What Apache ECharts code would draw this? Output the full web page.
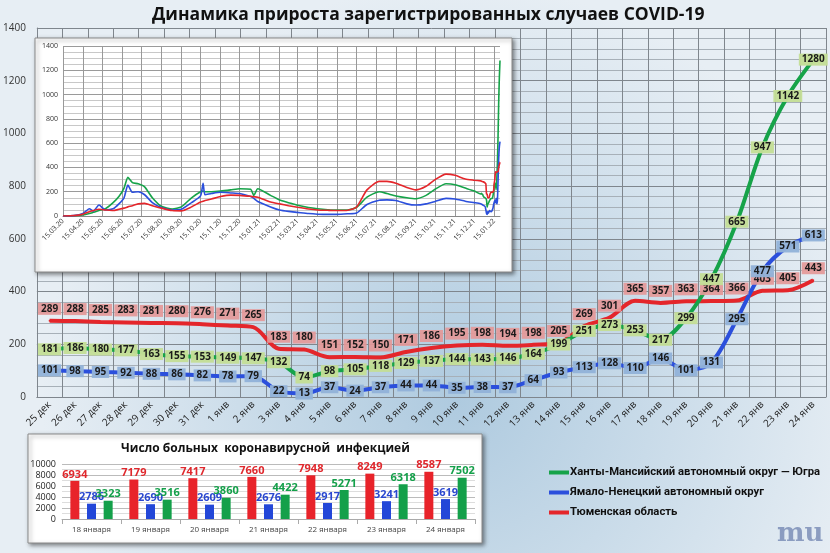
<!DOCTYPE html>
<html>
<head>
<meta charset="utf-8">
<script src="https://cdn.jsdelivr.net/npm/echarts@6/dist/echarts.min.js"></script>
<style>
  html, body { margin: 0; padding: 0; }
  #main { width: 830px; height: 553px; }
</style>
</head>
<body>
<div id="main"></div>
<script>
// Основной график: прирост за сутки, 25 дек - 24 янв
const days = ['25 дек','26 дек','27 дек','28 дек','29 дек','30 дек','31 дек','1 янв','2 янв','3 янв','4 янв',
  '5 янв','6 янв','7 янв','8 янв','9 янв','10 янв','11 янв','12 янв','13 янв','14 янв','15 янв','16 янв',
  '17 янв','18 янв','19 янв','20 янв','21 янв','22 янв','23 янв','24 янв'];
const tyumen = [289,288,285,283,281,280,276,271,265,183,180,151,152,150,171,186,195,198,194,198,205,269,301,365,357,363,364,366,403,405,443];
const khmao = [181,186,180,177,163,155,153,149,147,132,74,98,105,118,129,137,144,143,146,164,199,251,273,253,217,299,447,665,947,1142,1280];
const yamal = [101,98,95,92,88,86,82,78,79,22,13,37,24,37,44,44,35,38,37,64,93,113,128,110,146,101,131,295,477,571,613];

// Врезка: весь период
const insetDates = ['2020-03-15','2020-04-01','2020-04-15','2020-04-25','2020-05-01','2020-05-10','2020-05-20',
  '2020-06-01','2020-06-10','2020-06-18','2020-06-24','2020-07-01','2020-07-10','2020-07-20','2020-08-01',
  '2020-08-15','2020-09-01','2020-09-15','2020-10-01','2020-10-15','2020-10-19','2020-10-22','2020-11-01',
  '2020-11-15','2020-12-01','2020-12-15','2021-01-01','2021-01-06','2021-01-12','2021-02-01','2021-02-15',
  '2021-03-01','2021-03-15','2021-04-01','2021-04-15','2021-05-01','2021-05-15','2021-06-01','2021-06-15',
  '2021-07-01','2021-07-20','2021-08-01','2021-08-15','2021-09-01','2021-09-15','2021-10-01','2021-10-15',
  '2021-11-01','2021-11-15','2021-12-01','2021-12-15'];
const insetKhmao = [0,2,8,20,30,45,60,110,160,230,318,275,265,240,150,80,58,75,150,200,205,200,200,205,215,225,
  220,170,225,170,132,110,88,70,60,52,48,50,72,155,200,185,165,150,142,170,220,265,258,230,205];
const insetTyumen = [0,3,15,35,45,55,50,45,55,65,75,85,100,104,85,65,45,42,75,115,122,128,140,160,172,170,
  162,158,155,115,100,85,72,58,50,47,45,48,75,215,285,285,270,235,215,245,300,345,335,305,295];
const insetYamal = [0,3,20,60,40,90,50,60,100,150,255,195,200,175,110,70,50,55,110,165,270,175,185,195,190,185,
  160,145,120,75,50,38,30,20,15,13,13,18,25,95,130,133,128,100,90,100,120,145,140,122,110];

// Число больных
const barDays = ['18 января','19 января','20 января','21 января','22 января','23 января','24 января'];
const barTyumen = [6934,7179,7417,7660,7948,8249,8587];
const barYamal = [2786,2690,2609,2676,2917,3241,3619];
const barKhmao = [3323,3516,3860,4422,5271,6318,7502];

const NAME_K = 'Ханты-Мансийский автономный округ — Югра';
const NAME_Y = 'Ямало-Ненецкий автономный округ';
const NAME_T = 'Тюменская область';
const RED = '#e4262b', GREEN = '#16a349', BLUE = '#2b4fdc';
const FONT = 'Open Sans';
const plain = v => String(v);

// ось дат для врезки (по дням)
function fmt(d) {
  const p = n => (n < 10 ? '0' : '') + n;
  return p(d.getUTCDate()) + '.' + p(d.getUTCMonth() + 1) + '.' + String(d.getUTCFullYear()).slice(2);
}
const dayMs = 86400000;
const start = Date.UTC(2020, 2, 15);
const lastDay = Date.UTC(2022, 0, 24);
const insetAxis = [];
for (let t = start; t <= lastDay; t += dayMs) insetAxis.push(fmt(new Date(t)));
function idx(iso) {
  const p = iso.split('-');
  return Math.round((Date.UTC(+p[0], +p[1] - 1, +p[2]) - start) / dayMs);
}
function insetSeries(samples, tail) {
  const out = insetAxis.map(() => null);
  insetDates.forEach((d, i) => { out[idx(d)] = samples[i]; });
  const t0 = idx('2021-12-25');
  tail.forEach((v, i) => { out[t0 + i] = v; });
  return out;
}
const is15 = (i, v) => v.slice(0, 2) === '15';

function boxLabel(bg, pos, dist) {
  return {
    show: true, position: pos, distance: dist,
    backgroundColor: bg, padding: [1, 3],
    color: '#1a1a1a', fontWeight: 'bold', fontSize: 10, fontFamily: FONT
  };
}

function mainLine(name, data, color, bg, pos, dist) {
  return {
    name: name, type: 'line', xAxisIndex: 0, yAxisIndex: 0, data: data, color: color,
    smooth: 0.3, symbol: 'circle', symbolSize: 2, showSymbol: true,
    itemStyle: { color: color }, lineStyle: { width: 4, color: color }, z: 2,
    label: boxLabel(bg, pos, dist)
  };
}

const chart = echarts.init(document.getElementById('main'));
chart.setOption({
  animation: false,
  backgroundColor: '#d3e0ea',
  title: [{
    text: 'Динамика прироста зарегистрированных случаев COVID-19',
    left: 147, top: 1,
    textStyle: { fontSize: 17.5, fontWeight: 'bold', color: '#111', fontFamily: FONT }
  }, {
    text: 'Число больных  коронавирусной  инфекцией',
    left: 116, top: 438,
    textStyle: { fontSize: 12, fontWeight: 'bold', color: '#111', fontFamily: FONT }
  }],
  legend: {
    orient: 'vertical', left: 544, top: 462,
    icon: 'rect', itemWidth: 20, itemHeight: 4, itemGap: 9,
    data: [NAME_K, NAME_Y, NAME_T],
    textStyle: { fontSize: 11.3, fontWeight: 'bold', color: '#111', fontFamily: 'Roboto', padding: [0, 0, 0, -4] }
  },
  graphic: [
    { type: 'rect', z: -10, silent: true, shape: { x: 0, y: 0, width: 830, height: 553 },
      style: { fill: { type: 'radial', x: 0.55, y: 0.72, r: 0.75,
        colorStops: [{ offset: 0, color: '#aecadf' }, { offset: 1, color: '#e7eef4' }] } } },
    { type: 'rect', z: 1, shape: { x: 35, y: 38, width: 477, height: 234 },
      style: { fill: '#fff', stroke: '#8a8a8a', lineWidth: 1, shadowBlur: 4, shadowOffsetX: 2, shadowOffsetY: 2, shadowColor: 'rgba(0,0,0,0.45)' } },
    { type: 'rect', z: 1, shape: { x: 28, y: 434, width: 454, height: 109 },
      style: { fill: '#fff', stroke: '#8a8a8a', lineWidth: 1, shadowBlur: 4, shadowOffsetX: 2, shadowOffsetY: 2, shadowColor: 'rgba(0,0,0,0.45)' } },
    { type: 'text', z: 1, left: 777, top: 521,
      style: { text: 'mu', fontSize: 26, fontWeight: 'bold', fontFamily: 'DejaVu Serif', fill: 'rgba(110,130,175,0.75)' } }
  ],
  grid: [
    { left: 31, right: 4, top: 28, bottom: 156 },
    { left: 63, right: 330, top: 46, bottom: 337 },
    { left: 62, right: 355, top: 464, bottom: 34 }
  ],
  xAxis: [{
    type: 'category', gridIndex: 0, data: days, boundaryGap: true, z: 0,
    axisTick: { show: false },
    axisLine: { lineStyle: { color: '#7f868d' } },
    axisLabel: { rotate: 45, fontSize: 10, color: '#222', margin: 6, interval: 0, fontFamily: FONT },
    splitLine: { show: true, interval: 0, lineStyle: { color: '#7f868d', width: 1 } }
  }, {
    type: 'category', gridIndex: 1, data: insetAxis, boundaryGap: false, z: 3,
    axisTick: { show: false },
    axisLine: { lineStyle: { color: '#888' } },
    axisLabel: { rotate: 45, fontSize: 7, color: '#333', margin: 4, interval: is15, fontFamily: FONT },
    splitLine: { show: true, interval: is15, lineStyle: { color: '#999', width: 1 } }
  }, {
    type: 'category', gridIndex: 2, data: barDays, z: 3,
    axisTick: { show: true, lineStyle: { color: '#aaa' } },
    axisLine: { lineStyle: { color: '#aaa' } },
    axisLabel: { fontSize: 8, color: '#444', margin: 7, fontFamily: FONT }
  }],
  yAxis: [{
    type: 'value', gridIndex: 0, min: 0, max: 1400, interval: 200, z: 0,
    axisLine: { show: true, lineStyle: { color: '#7f868d' } },
    axisLabel: { fontSize: 10, color: '#333', margin: 11, fontFamily: FONT, formatter: plain },
    splitLine: { show: true, lineStyle: { color: '#7f868d', width: 1 } },
    minorTick: { show: false, splitNumber: 5 },
    minorSplitLine: { show: true, lineStyle: { color: '#a7b0b8', width: 1 } }
  }, {
    type: 'value', gridIndex: 1, min: 0, max: 1400, interval: 200, z: 3,
    axisLabel: { fontSize: 7, color: '#333', margin: 5, fontFamily: FONT, formatter: plain },
    splitLine: { lineStyle: { color: '#9a9a9a', width: 1 } },
    minorTick: { show: false, splitNumber: 4 },
    minorSplitLine: { show: true, lineStyle: { color: '#c8c8c8', width: 1 } }
  }, {
    type: 'value', gridIndex: 2, min: 0, max: 10000, interval: 2000, z: 3,
    axisLabel: { fontSize: 9, color: '#222', margin: 6, fontFamily: FONT, formatter: plain },
    splitLine: { lineStyle: { color: '#bbb', width: 1 } },
    minorTick: { show: false, splitNumber: 2 },
    minorSplitLine: { show: true, lineStyle: { color: '#ddd', width: 1 } }
  }],
  series: [
    mainLine(NAME_T, tyumen, RED, 'rgba(228,152,152,0.92)', 'top', 5),
    mainLine(NAME_K, khmao, GREEN, 'rgba(196,222,150,0.96)', 'inside', 0),
    mainLine(NAME_Y, yamal, BLUE, 'rgba(146,178,216,0.96)', 'inside', 0),

    { name: NAME_K, type: 'line', xAxisIndex: 1, yAxisIndex: 1, data: insetSeries(insetKhmao, khmao), color: GREEN,
      connectNulls: true, smooth: 0.2, showSymbol: false, symbol: 'none', lineStyle: { width: 1.6, color: GREEN }, z: 4 },
    { name: NAME_Y, type: 'line', xAxisIndex: 1, yAxisIndex: 1, data: insetSeries(insetYamal, yamal), color: BLUE,
      connectNulls: true, smooth: 0.2, showSymbol: false, symbol: 'none', lineStyle: { width: 1.6, color: BLUE }, z: 4 },
    { name: NAME_T, type: 'line', xAxisIndex: 1, yAxisIndex: 1, data: insetSeries(insetTyumen, tyumen), color: RED,
      connectNulls: true, smooth: 0.2, showSymbol: false, symbol: 'none', lineStyle: { width: 1.6, color: RED }, z: 4 },

    { name: NAME_T, type: 'bar', xAxisIndex: 2, yAxisIndex: 2, data: barTyumen, barWidth: 9, barGap: '85%', z: 4,
      itemStyle: { color: '#e8232a' },
      label: { show: true, position: 'top', distance: 1, color: '#e0282d', fontSize: 11, fontWeight: 'bold', fontFamily: FONT } },
    { name: NAME_Y, type: 'bar', xAxisIndex: 2, yAxisIndex: 2, data: barYamal, barWidth: 9, barGap: '85%', z: 4,
      itemStyle: { color: '#2347d8' },
      label: { show: true, position: 'top', distance: 1, color: '#2a48d0', fontSize: 11, fontWeight: 'bold', fontFamily: FONT } },
    { name: NAME_K, type: 'bar', xAxisIndex: 2, yAxisIndex: 2, data: barKhmao, barWidth: 9, barGap: '85%', z: 4,
      itemStyle: { color: '#14a04a' },
      label: { show: true, position: 'top', distance: 1, color: '#14a04a', fontSize: 11, fontWeight: 'bold', fontFamily: FONT } }
  ]
});
</script>
</body>
</html>
